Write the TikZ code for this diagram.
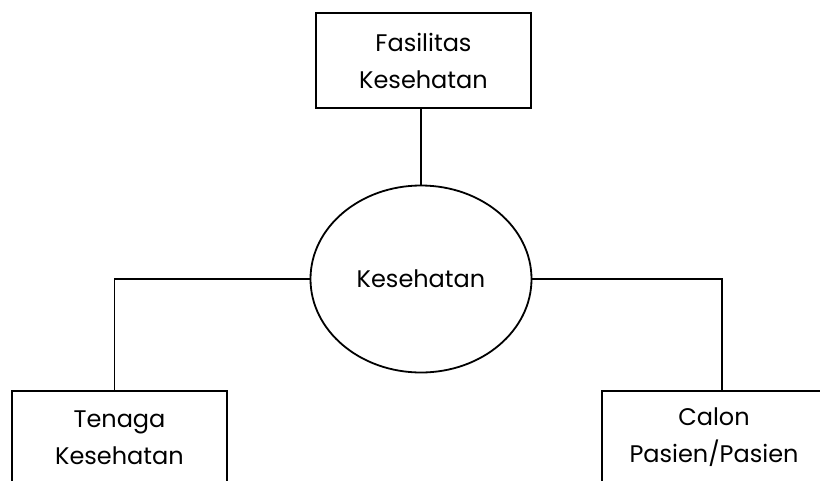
\documentclass[tikz,border=0pt]{standalone}
\usepackage{fontspec}
\setmainfont{Poppins}
\usetikzlibrary{shapes.geometric}
\tikzset{
  every node/.style={font=\fontsize{24}{37}\selectfont, text=black},
  entity/.style={draw, line width=1.8pt, rectangle, align=center, inner sep=0pt},
  hub/.style={draw, line width=1.8pt, ellipse, inner sep=0pt},
  link/.style={line width=1.8pt}
}
\begin{document}
\begin{tikzpicture}[x=1pt,y=-1pt]
  \useasboundingbox (0,0) rectangle (820,480);
  \clip (0,0) rectangle (820,480);
  \fill[white] (0,0) rectangle (820,480);

  % entities
  \node[entity, minimum width=215pt, minimum height=95pt] (fas) at (423.5,60.5) {Fasilitas\\Kesehatan};
  \node[hub, minimum width=221pt, minimum height=187pt] (kes) at (421,279) {Kesehatan};
  \node[entity, minimum width=215pt, minimum height=93pt] (ten) at (119.5,437.5) {Tenaga\\Kesehatan};
  \node[entity, minimum width=224pt, minimum height=93pt] (cal) at (714,437.5) {Calon\\Pasien/Pasien};

  % relations
  \coordinate (tenTop) at (114.5,391);
  \coordinate (calTop) at (722,391);
  \draw[link] (fas.south -| kes.north) -- (kes.north);
  \draw[link] (kes.west) -| (tenTop);
  \draw[link] (kes.east) -| (calTop);
\end{tikzpicture}
\end{document}
